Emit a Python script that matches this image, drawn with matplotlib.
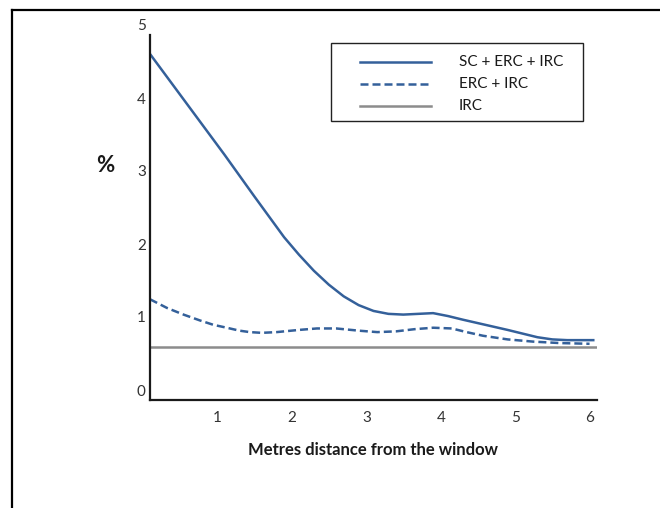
import matplotlib
matplotlib.use("Agg")
import matplotlib.pyplot as plt
from matplotlib.lines import Line2D
from matplotlib.transforms import ScaledTranslation

plt.rcParams["font.family"] = ["Lato", "DejaVu Sans"]

# distance from the window (m) and percentage values
x_sc = [0, 0.5, 1.0, 1.4, 1.8, 2.0, 2.2, 2.4, 2.6, 2.8, 3.0, 3.2, 3.4, 3.6, 3.8,
        4.0, 4.2, 4.5, 4.8, 5.0, 5.2, 5.4, 5.6, 5.95]
sc_erc_irc = [4.74, 4.05, 3.36, 2.79, 2.23, 1.99, 1.77, 1.58, 1.42, 1.30, 1.22, 1.18,
              1.17, 1.18, 1.19, 1.15, 1.10, 1.03, 0.96, 0.91, 0.86, 0.83, 0.82, 0.82]

x_erc = [0, 0.23, 0.45, 0.67, 0.85, 1.03, 1.2, 1.34, 1.5, 1.7, 2.0, 2.24, 2.5, 2.8,
         3.05, 3.3, 3.55, 3.8, 4.05, 4.25, 4.47, 4.8, 5.14, 5.5, 5.9]
erc_irc = [1.38, 1.26, 1.17, 1.09, 1.03, 0.99, 0.95, 0.93, 0.92, 0.93, 0.96, 0.98,
           0.98, 0.95, 0.93, 0.94, 0.97, 0.99, 0.98, 0.93, 0.88, 0.83, 0.80, 0.78, 0.77]

x_irc = [0, 6]
irc = [0.73, 0.73]

labels = ["SC + ERC + IRC", "ERC + IRC", "IRC"]
x_ticks = [1, 2, 3, 4, 5, 6]
y_ticks = [0, 1, 2, 3, 4, 5]

blue = "#34609A"
grey = "#8C8C8C"
W, H = 660, 508

fig = plt.figure(figsize=(6.6, 5.08), dpi=100)
ax = fig.add_axes([150 / W, 1 - 400 / H, (597 - 150) / W, (400 - 35) / H])

l1, = ax.plot(x_sc, sc_erc_irc, color=blue, lw=1.8, solid_joinstyle="round")
l2, = ax.plot(x_erc, erc_irc, color=blue, lw=1.8, dashes=(3.2, 1.6))
l3, = ax.plot(x_irc, irc, color=grey, lw=1.8)

ax.set_xlim(0, 6)
ax.set_ylim(0, 5)
ax.set_xticks(x_ticks)
ax.set_yticks(y_ticks)
ax.tick_params(length=0, labelsize=11, labelcolor="#333333")
ax.tick_params(axis="x", pad=8)
ax.tick_params(axis="y", pad=3)
for lab in ax.get_yticklabels():
    lab.set_transform(lab.get_transform() + ScaledTranslation(0, 0.1, fig.dpi_scale_trans))
for lab in ax.get_xticklabels():
    lab.set_transform(lab.get_transform() + ScaledTranslation(-0.07, 0, fig.dpi_scale_trans))

for side in ["top", "right"]:
    ax.spines[side].set_visible(False)
for side in ["left", "bottom"]:
    ax.spines[side].set_linewidth(1.6)
    ax.spines[side].set_color("#1a1a1a")

ax.set_xlabel("Metres distance from the window", fontsize=12, fontweight="bold",
              labelpad=12, color="#1a1a1a")
fig.text(105 / W, 1 - 165 / H, "%", fontsize=16, fontweight="bold",
         ha="center", va="center", color="#1a1a1a")

# legend box, drawn in figure pixels
box = plt.Rectangle((331 / W, 1 - 121 / H), (583 - 331) / W, (121 - 43) / H,
                    transform=fig.transFigure, fill=False, edgecolor="#222222", lw=1.0)
fig.add_artist(box)
rows = [62, 84, 106]
for y, lab, src in zip(rows, labels, [l1, l2, l3]):
    h = Line2D([360 / W, 431 / W], [1 - y / H] * 2, transform=fig.transFigure,
               color=src.get_color(), lw=1.8)
    if src is l2:
        h.set_dashes((3.2, 1.6))
    fig.add_artist(h)
    fig.text(459 / W, 1 - y / H, lab, fontsize=11, va="center", color="#1a1a1a")

# outer frame (top and left edges visible)
fig.add_artist(Line2D([12 / W, 1], [1 - 10 / H] * 2, transform=fig.transFigure,
                      color="black", lw=1.6))
fig.add_artist(Line2D([12 / W] * 2, [0, 1 - 10 / H], transform=fig.transFigure,
                      color="black", lw=1.6))

fig.savefig("out.png", dpi=100)
